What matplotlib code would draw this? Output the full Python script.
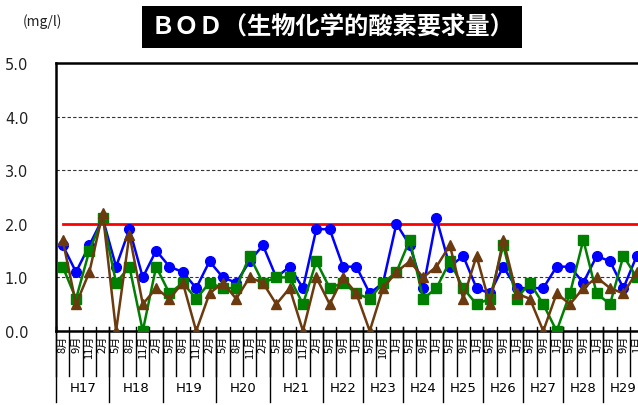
import numpy as np
import matplotlib.pyplot as plt
from matplotlib.transforms import blended_transform_factory

plt.rcParams['font.family'] = ['Noto Sans CJK JP', 'DejaVu Sans']

# 月ラベル・年度
months = ['8', '9', '11', '2', '5', '8', '11', '2', '5', '8', '11', '2',
          '5', '8', '11', '2', '5', '8', '11', '2',
          '5', '9', '1', '5', '10', '1', '5', '9', '1', '5', '9', '1',
          '5', '9', '1', '5', '9', '1', '5', '9', '1', '5', '9', '1']
years = ['H17', 'H18', 'H19', 'H20', 'H21', 'H22', 'H23', 'H24',
         'H25', 'H26', 'H27', 'H28', 'H29']
year_counts = [4, 4, 4, 4, 4, 3, 3, 3, 3, 3, 3, 3, 3]

# BOD (mg/l)
blue = [1.6, 1.1, 1.6, 2.1, 1.2, 1.9, 1.0, 1.5, 1.2, 1.1, 0.8, 1.3, 1.0, 0.9,
        1.3, 1.6, 1.0, 1.2, 0.8, 1.9, 1.9, 1.2, 1.2, 0.7, 0.9, 2.0, 1.6, 0.8,
        2.1, 1.2, 1.4, 0.8, 0.7, 1.2, 0.8, 0.8, 0.8, 1.2, 1.2, 0.9, 1.4, 1.3,
        0.8, 1.4]
green = [1.2, 0.6, 1.5, 2.1, 0.9, 1.2, 0.0, 1.2, 0.7, 0.9, 0.6, 0.9, 0.8, 0.8,
         1.4, 0.9, 1.0, 1.0, 0.5, 1.3, 0.8, 0.9, 0.7, 0.6, 0.9, 1.1, 1.7, 0.6,
         0.8, 1.3, 0.8, 0.5, 0.6, 1.6, 0.6, 0.9, 0.5, 0.0, 0.7, 1.7, 0.7, 0.5,
         1.4, 1.0]
brown = [1.7, 0.5, 1.1, 2.2, 0.0, 1.8, 0.5, 0.8, 0.6, 0.9, 0.0, 0.7, 0.9, 0.6,
         1.0, 0.9, 0.5, 0.8, 0.0, 1.0, 0.5, 1.0, 0.7, 0.0, 0.8, 1.1, 1.3, 1.0,
         1.2, 1.6, 0.6, 1.4, 0.5, 1.7, 0.7, 0.6, 0.0, 0.7, 0.5, 0.8, 1.0, 0.8,
         0.7, 1.1]
limit = 2.0

n = len(months)
x = np.arange(n)

fig = plt.figure(figsize=(6.38, 4.06), dpi=100)
ax = fig.add_axes([56 / 638, 74 / 406, n * 13.35 / 638, 268 / 406])

ax.set_xlim(-0.5, n - 0.5)
ax.set_ylim(0, 5)
ax.set_yticks(np.arange(0, 5.1, 1.0))
ax.set_yticklabels(['%.1f' % v for v in np.arange(0, 5.1, 1.0)], fontsize=10.5,
                   family='DejaVu Sans', color='#222222')
ax.tick_params(axis='y', length=0, pad=20)
for v in [1, 3, 4]:
    ax.axhline(v, color='#333333', lw=0.8, ls=(0, (3, 2)), zorder=1)

ax.plot([0, n], [limit, limit], color='#ff0000', lw=2, zorder=2)

ax.plot(x, blue, color='#0000ff', lw=1.8, marker='o', ms=7, zorder=3)
ax.plot(x, green, color='#008000', lw=1.8, marker='s', ms=7, zorder=4)
ax.plot(x, brown, color='#6b3a0e', lw=1.8, marker='^', ms=7.5, zorder=5)

for s in ['left', 'bottom', 'top']:
    ax.spines[s].set_linewidth(1.8)
ax.spines['right'].set_visible(False)

ax.set_xticks([])
trans = blended_transform_factory(ax.transData, ax.transAxes)
starts = np.cumsum([0] + year_counts)
for b in np.arange(n + 1) - 0.5:
    ax.plot([b, b], [0.015, -0.168], color='black', lw=1, transform=trans,
            clip_on=False)
for b in starts:
    ax.plot([b - 0.5, b - 0.5], [0.015, -0.265], color='black', lw=1,
            transform=trans, clip_on=False)
for i, m in enumerate(months):
    ax.text(i, -0.015, m + '月', rotation=90, ha='center', va='top',
            fontsize=8, transform=trans)
for k, y in enumerate(years):
    c = (starts[k] + starts[k + 1] - 1) / 2
    ax.text(c, -0.21, y, ha='center', va='center', fontsize=9.5,
            family='DejaVu Sans', transform=trans)

fig.text(332 / 638, 1 - 28 / 406, 'ＢＯＤ（生物化学的酸素要求量）', ha='center',
         va='center', fontsize=17.5, fontweight='bold', color='white',
         bbox=dict(boxstyle='square,pad=0.35', fc='black', ec='none'))
fig.text(42 / 638, 1 - 22 / 406, '(mg/l)', ha='center', va='center',
         fontsize=10, color='#222222')

fig.savefig('out.png', dpi=100)
